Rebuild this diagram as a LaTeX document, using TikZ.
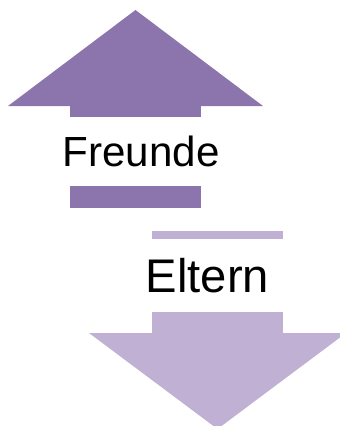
\documentclass[tikz,border=0pt]{standalone}
\usepackage{fontspec}
\setmainfont{Liberation Sans}
\usetikzlibrary{positioning}
\definecolor{darkviolet}{HTML}{8C74AD}
\definecolor{lightviolet}{HTML}{BFB0D4}
\tikzset{
    up shape/.style={fill=darkviolet, draw=none},
    down shape/.style={fill=lightviolet, draw=none},
    label text/.style={inner sep=0pt, anchor=base west, text=black}
}
\begin{document}
\begin{tikzpicture}[x=0.75pt, y=-0.75pt]
	\clip (0,0) rectangle (340,426);
	\begin{scope}[every path/.style={up shape}]
		\fill (8,106) -- (135.5,10) -- (263,106) -- cycle;
		\fill (70,105) rectangle (201,117);
		\fill (70,186) rectangle (201,208);
	\end{scope}
	\node[label text, font=\fontsize{31.6}{36}\selectfont] (freunde) at (62.5,166.5) {Freunde};
	\begin{scope}[every path/.style={down shape}]
		\fill (152,231) rectangle (283,239);
		\fill (152,312) rectangle (283,334);
		\fill (89,333) -- (217.5,429) -- (346,333) -- cycle;
	\end{scope}
	\node[label text, font=\fontsize{35.4}{40}\selectfont] (eltern) at (145.5,292) {Eltern};
\end{tikzpicture}
\end{document}
